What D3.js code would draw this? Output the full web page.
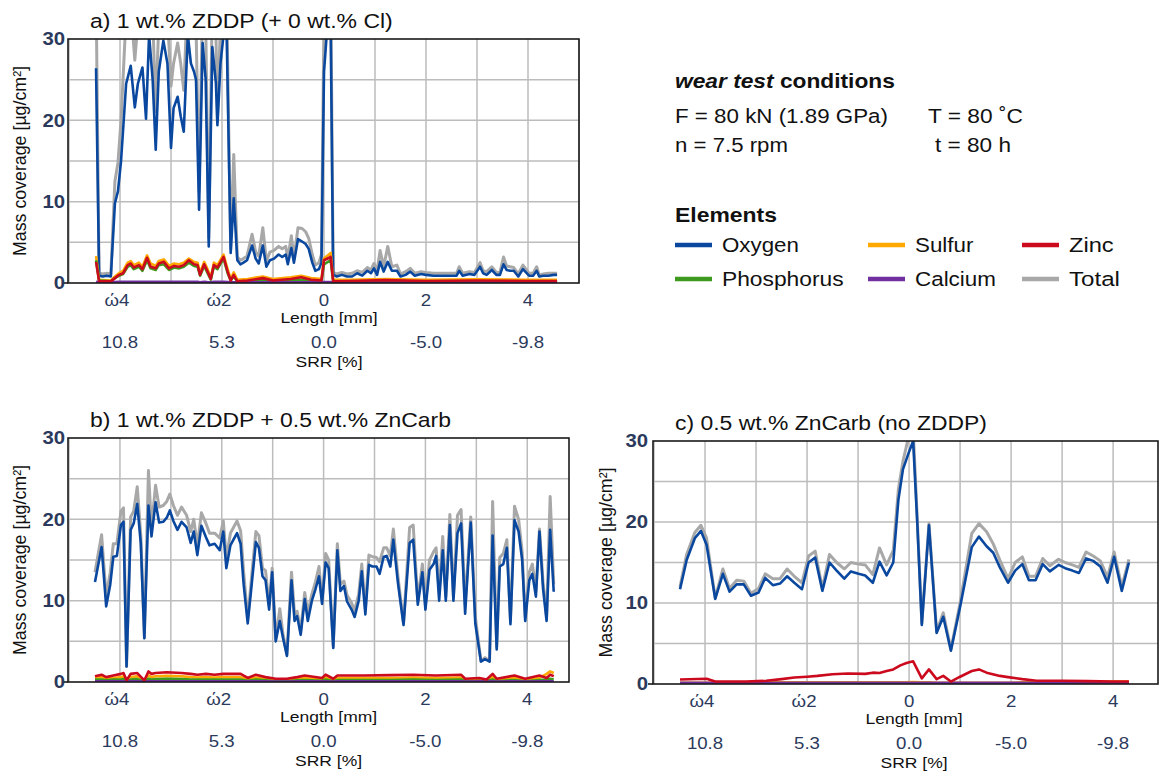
<!DOCTYPE html>
<html><head><meta charset="utf-8">
<script src="https://cdn.jsdelivr.net/npm/d3@7"></script>
<style>body{margin:0;background:#fff}svg{display:block;font-family:"Liberation Sans",Arial,sans-serif}</style>
</head><body><svg id="chart" width="1159" height="774"></svg>
<script>
// ---------- DATA ----------
const elementNames = ["Oxygen","Sulfur","Zinc","Phosphorus","Calcium","Total"];
const lengthTicks = [-4,-2,0,2,4];
const lengthTickLabels = ["ώ4","ώ2","0","2","4"];
const srrTickLabels = ["10.8","5.3","0.0","-5.0","-9.8"];
const yTicks = [0,10,20,30];
const titles = ["a) 1 wt.% ZDDP (+ 0 wt.% Cl)","b) 1 wt.% ZDDP + 0.5 wt.% ZnCarb","c) 0.5 wt.% ZnCarb (no ZDDP)"];

// Panel a : oxygen / total
const xA = [-4.47,-4.41,-4.34,-4.26,-4.18,-4.10,-4.04,-3.98,-3.88,-3.79,-3.71,-3.65,-3.56,-3.49,-3.43,-3.36,-3.30,-3.24,-3.15,-3.07,-3.00,-2.95,-2.87,-2.81,-2.75,-2.67,-2.61,-2.55,-2.51,-2.45,-2.38,-2.32,-2.26,-2.19,-2.12,-2.09,-2.03,-1.97,-1.91,-1.83,-1.77,-1.70,-1.64,-1.58,-1.51,-1.41,-1.34,-1.28,-1.20,-1.13,-1.06,-0.98,-0.89,-0.82,-0.75,-0.71,-0.64,-0.59,-0.51,-0.43,-0.36,-0.30,-0.23,-0.17,-0.10,-0.05,0.00,0.07,0.13,0.18,0.25,0.35,0.45,0.55,0.65,0.75,0.85,0.92,0.98,1.04,1.10,1.17,1.25,1.33,1.43,1.50,1.60,1.69,1.78,1.90,2.00,2.15,2.30,2.45,2.60,2.65,2.72,2.85,2.95,3.06,3.12,3.19,3.29,3.38,3.45,3.52,3.58,3.65,3.72,3.81,3.90,3.96,4.02,4.10,4.17,4.22,4.30,4.40,4.50,4.57];
const oxyA = [26.4,0.9,0.8,0.9,0.8,9.8,11.3,15,24.5,26.7,21.6,24.5,26.5,20.2,30.5,25,16.4,26,29.8,27,16.6,21.5,22.9,20.5,18.6,30.5,27,26,25,9.0,29.5,25,4.5,29,24.6,19.4,27,30.5,31,3.7,10.4,2.8,2.3,2.5,2.8,4.6,3.0,2.4,4.6,2.0,2.8,3.0,3.5,3.2,3.5,2.3,4.3,2.5,5.4,5.1,4.8,4.2,2.5,1.5,1.7,2.5,26,32,32,1.0,0.8,1.0,0.8,0.8,1.2,0.9,1.5,1.2,1.8,1.0,2.6,1.4,2.6,1.5,1.5,0.8,1.0,1.4,0.9,1.1,1.0,0.9,0.9,0.9,0.9,1.5,0.9,1.1,1.0,2.0,1.2,1.0,1.6,1.0,1.0,2.3,1.6,1.5,1.5,0.8,1.7,1.3,0.9,0.9,1.5,0.8,0.9,0.9,1.0,1.0];
const totA = [36,1.2,1.1,1.2,1.1,12.5,14.8,20,33,34,27.4,32,33,31,36,33,21.1,32,35,33,24.2,27,29.5,27,23.7,36,34,33,32,11.2,35,32,5.5,35,31,20,32,35,35,4.2,15.8,3.2,2.8,3.0,3.3,6.0,3.8,3.3,6.8,2.7,3.8,4.0,4.5,4.2,4.5,3.0,5.8,3.0,6.8,6.7,6.3,5.5,3.5,2.2,2.5,3.5,33,38,38,1.3,1.1,1.3,1.1,1.2,1.5,1.3,1.9,1.6,2.4,1.5,4.0,2.0,4.5,2.0,2.2,1.1,1.4,1.8,1.2,1.4,1.3,1.2,1.2,1.2,1.2,2.0,1.2,1.4,1.3,2.5,1.5,1.4,2.0,1.3,1.3,3.2,2.1,2.0,1.9,1.1,2.2,1.7,1.2,1.2,2.0,1.0,1.1,1.2,1.2,1.2];
// Panel a : minor elements
const xMinA = [-4.47,-4.41,-4.18,-4.10,-4.02,-3.94,-3.85,-3.79,-3.73,-3.63,-3.56,-3.47,-3.40,-3.30,-3.24,-3.14,-3.04,-2.94,-2.84,-2.75,-2.65,-2.55,-2.48,-2.43,-2.35,-2.29,-2.22,-2.16,-2.09,-1.97,-1.89,-1.83,-1.77,-1.70,-1.50,-1.20,-1.00,-0.65,-0.45,-0.25,-0.05,0.00,0.13,0.18,0.50,1.20,2.00,3.00,4.00,4.57];
const sulA = [3.3,0.4,0.3,0.8,1.2,1.5,2.5,2.7,2.2,2.5,2.0,3.4,2.4,2.1,2.7,2.9,2.1,2.4,2.3,2.5,3.0,2.6,2.5,1.3,2.6,1.8,0.7,2.5,2.2,3.5,1.7,0.5,1.3,0.4,0.5,0.8,0.5,0.7,0.9,0.6,0.5,3.0,3.7,0.4,0.4,0.5,0.4,0.45,0.4,0.4];
const phoA = [2.8,0.3,0.2,0.6,0.9,1.1,2.0,2.2,1.7,2.0,1.5,2.8,1.8,1.6,2.2,2.3,1.6,1.9,1.8,2.0,2.5,2.1,2.0,0.9,2.1,1.3,0.4,2.0,1.7,3.0,1.2,0.3,0.8,0.2,0.2,0.4,0.2,0.3,0.4,0.3,0.2,2.3,2.8,0.2,0.2,0.2,0.2,0.2,0.2,0.2];
const zinA = [2.6,0.2,0.2,0.6,1.0,1.2,2.2,2.4,1.9,2.2,1.7,3.1,2.0,1.8,2.4,2.6,1.8,2.1,2.0,2.2,2.8,2.3,2.2,1.0,2.3,1.5,0.5,2.2,1.9,3.2,1.4,0.3,1.0,0.2,0.3,0.6,0.3,0.5,0.7,0.4,0.3,2.8,3.2,0.2,0.25,0.35,0.25,0.3,0.25,0.25];
const calA = [0.15,0.1,0.1,0.12,0.15,0.15,0.15,0.15,0.15,0.15,0.15,0.15,0.15,0.15,0.15,0.15,0.15,0.15,0.15,0.15,0.15,0.15,0.15,0.1,0.15,0.12,0.1,0.15,0.15,0.15,0.12,0.08,0.1,0.08,0.08,0.1,0.08,0.08,0.1,0.08,0.08,0.12,0.12,0.06,0.06,0.06,0.06,0.06,0.06,0.06];

// Panel b : oxygen / total
const xB = [-4.49,-4.36,-4.27,-4.19,-4.13,-4.06,-3.98,-3.93,-3.87,-3.79,-3.73,-3.66,-3.59,-3.52,-3.44,-3.38,-3.30,-3.23,-3.15,-3.08,-3.02,-2.95,-2.87,-2.79,-2.69,-2.61,-2.55,-2.48,-2.40,-2.31,-2.24,-2.14,-2.04,-1.97,-1.91,-1.83,-1.77,-1.70,-1.63,-1.57,-1.49,-1.42,-1.33,-1.27,-1.20,-1.14,-1.07,-1.01,-0.94,-0.86,-0.80,-0.72,-0.63,-0.57,-0.52,-0.45,-0.37,-0.31,-0.23,-0.16,-0.09,-0.03,0.04,0.10,0.19,0.27,0.33,0.40,0.46,0.55,0.61,0.69,0.75,0.82,0.89,0.96,1.04,1.10,1.18,1.24,1.31,1.37,1.46,1.57,1.69,1.76,1.85,1.94,2.00,2.08,2.16,2.21,2.27,2.34,2.40,2.48,2.55,2.63,2.70,2.78,2.89,2.98,3.09,3.17,3.26,3.32,3.40,3.46,3.53,3.60,3.67,3.75,3.83,3.90,3.96,4.04,4.10,4.17,4.24,4.31,4.38,4.45,4.52];
const oxyB = [12.3,16.6,9.3,12,15.4,15.5,19.3,19.7,1.9,18.7,19.5,21.9,17,5.4,21.7,17.9,22.1,19.6,19.7,20.2,21.1,19.8,18.7,19.7,19,17.1,18.5,15.6,19.2,17.8,16.8,17,16.2,18.5,14,16.8,17.5,18.3,17,12,7.2,11.5,17.2,16.5,13,12.5,8.9,13.5,5.0,7.5,5.5,3.2,12.5,7.5,8.1,5.8,10.2,7.5,10,11.4,13,9.6,14.7,14,4.2,16.2,11.2,11.8,9.9,8.9,8.0,10,13.6,8.3,14.4,14.2,14.2,13.3,15.4,15.5,14.2,17.5,12.2,7.0,17.1,17.5,9.5,13.5,8.9,13.8,14.5,15.5,10,16.2,10,19.3,10,18.3,19.5,8.4,19.6,7.2,2.5,2.8,2.5,18,4.0,14.2,14.5,16.5,7.1,19.9,18.5,15,7.5,12.5,13.3,10.5,18.5,11.5,7.5,18.7,11.1];
const totB = [13.5,18.1,10.5,13.5,17,17,21,21.4,1.9,20.3,21,24,18,5.4,26,19,24.2,21.5,21.7,22.2,23.1,21.7,20.5,21.5,20.5,18.5,20,16.8,20.8,19.5,18.3,18.3,17.7,19.8,15.2,18.3,19,19.8,18.6,13.5,7.8,12.5,18.5,18,14,13.7,9.5,14,5.3,9,6,3.4,13.5,8.3,8.7,6.3,11,8.5,10.8,12.3,14.2,10,15.8,15,4.4,17,12,12.4,10.7,9.7,8.8,10.8,14.5,9,15.6,15.4,15.3,14.8,16.5,16.5,15.5,18.8,13,7.2,19,19.3,10,14.5,9.5,15,16,16.5,11,17.9,10.5,20.6,10.5,20.5,21.2,9.5,20.3,8,2.6,3.0,2.6,22.2,4.3,15.3,15.8,17.5,7.5,21.6,20,16,8,13.5,14.5,11.2,18.8,12.3,8,22.8,12];
// Panel b : minor elements
const xMinB = [-4.49,-4.36,-4.27,-4.13,-3.98,-3.93,-3.87,-3.79,-3.66,-3.52,-3.44,-3.38,-3.30,-3.08,-2.79,-2.61,-2.48,-2.31,-2.14,-1.97,-1.83,-1.63,-1.49,-1.33,-1.14,-0.94,-0.72,-0.52,-0.37,-0.03,0.04,0.19,0.27,0.80,1.30,1.76,2.20,2.70,2.78,3.06,3.20,3.32,3.40,3.75,3.96,4.24,4.38,4.45,4.52];
const sulB = [0.5,0.6,0.4,0.5,0.6,0.7,0.1,0.6,0.7,0.1,0.8,0.6,0.7,0.75,0.7,0.6,0.55,0.6,0.55,0.6,0.6,0.6,0.3,0.55,0.35,0.25,0.25,0.35,0.5,0.3,0.55,0.25,0.5,0.5,0.5,0.55,0.5,0.55,0.25,0.3,0.2,0.6,0.25,0.5,0.25,0.5,1.0,1.3,1.1];
const phoB = [0.3,0.3,0.2,0.3,0.3,0.35,0.05,0.3,0.35,0.05,0.4,0.3,0.35,0.4,0.35,0.3,0.3,0.3,0.3,0.3,0.3,0.3,0.15,0.3,0.2,0.1,0.1,0.2,0.25,0.15,0.3,0.1,0.25,0.25,0.25,0.3,0.25,0.3,0.1,0.15,0.1,0.3,0.1,0.25,0.1,0.25,0.3,0.4,0.3];
const zinB = [0.7,0.9,0.6,0.8,1.0,1.1,0.2,1.0,1.1,0.2,1.3,1.0,1.1,1.2,1.1,1.0,0.9,1.0,0.9,1.0,1.0,1.0,0.5,0.9,0.6,0.4,0.4,0.6,0.8,0.5,0.9,0.4,0.8,0.8,0.85,0.9,0.8,0.9,0.4,0.5,0.3,1.0,0.4,0.8,0.4,0.8,0.5,0.9,0.7];
const calB = [0.1,0.1,0.1,0.1,0.1,0.1,0.05,0.1,0.1,0.05,0.1,0.1,0.1,0.1,0.1,0.1,0.1,0.1,0.1,0.1,0.1,0.1,0.08,0.1,0.08,0.06,0.06,0.08,0.1,0.08,0.1,0.06,0.1,0.1,0.1,0.1,0.1,0.1,0.06,0.08,0.06,0.1,0.06,0.1,0.06,0.1,0.1,0.1,0.1];

// Panel c : oxygen / total
const xC = [-4.49,-4.36,-4.20,-4.08,-3.97,-3.80,-3.65,-3.52,-3.38,-3.24,-3.10,-2.95,-2.82,-2.67,-2.53,-2.39,-2.25,-2.10,-1.97,-1.84,-1.70,-1.56,-1.42,-1.27,-1.14,-0.99,-0.86,-0.71,-0.58,-0.44,-0.31,-0.21,-0.12,-0.01,0.08,0.16,0.25,0.39,0.54,0.67,0.82,1.00,1.23,1.37,1.52,1.65,1.78,1.94,2.08,2.22,2.35,2.48,2.62,2.76,2.93,3.06,3.20,3.33,3.47,3.61,3.75,3.89,4.02,4.17,4.31];
const oxyC = [11.7,15.3,18,18.9,17.2,10.5,13.6,11.4,12.3,12.3,10.9,11.3,13.1,12.2,12.4,13.3,12.5,11.7,15.0,15.6,11.5,15,14,13,13.9,13.6,13.4,12.5,15.1,13.4,15,22.7,26.5,28.5,30,20,7.3,19.6,6.3,8.3,4.1,9.5,16.9,18.2,17,16.2,14.4,12.5,14,14.8,12.8,12.8,14.8,13.9,14.7,14.3,14,13.7,15.5,15.2,14.5,12.5,15.7,11.5,15];
const totC = [12,16,18.7,19.6,18,10.6,14.2,11.8,12.8,12.7,11.2,11.8,13.6,13,13,14.2,13.3,12.5,15.8,16.4,11.8,16,15,14.2,15,14.8,14.7,13.5,16.8,14.7,16.5,24,27.5,30.5,31.5,20.5,7.5,19.8,6.5,8.8,4.3,10,18.6,19.8,18.8,17.3,15.3,13,15,15.7,13.3,13.3,15.5,14.6,15.4,15,14.7,14.4,16.3,15.8,15.2,13.2,16.3,12,15.4];
// Panel c : minor elements
const xMinC = [-4.49,-3.97,-3.80,-3.20,-2.80,-2.50,-2.25,-2.00,-1.80,-1.50,-1.20,-0.86,-0.71,-0.58,-0.44,-0.31,-0.17,-0.05,0.08,0.25,0.39,0.54,0.67,0.82,1.00,1.23,1.37,1.52,1.78,1.94,2.22,2.50,3.00,3.50,4.00,4.31];
const sulC = [0.15,0.15,0.15,0.15,0.2,0.2,0.2,0.2,0.2,0.2,0.2,0.2,0.2,0.2,0.2,0.2,0.2,0.2,0.25,0.2,0.2,0.15,0.15,0.15,0.15,0.15,0.15,0.15,0.15,0.15,0.2,0.2,0.25,0.25,0.3,0.3];
const phoC = [0.1,0.1,0.1,0.1,0.1,0.1,0.1,0.1,0.1,0.1,0.1,0.1,0.1,0.1,0.1,0.1,0.1,0.1,0.1,0.1,0.1,0.1,0.1,0.1,0.1,0.1,0.1,0.1,0.1,0.1,0.1,0.1,0.1,0.1,0.1,0.1];
const zinC = [0.55,0.65,0.3,0.3,0.4,0.6,0.8,0.9,1.0,1.2,1.3,1.25,1.4,1.35,1.6,1.8,2.3,2.6,2.8,0.7,1.8,0.6,1.0,0.3,0.9,1.6,1.8,1.4,1.0,0.85,0.6,0.4,0.4,0.35,0.3,0.3];
const calC = [0.15,0.15,0.15,0.15,0.15,0.15,0.15,0.15,0.15,0.15,0.15,0.15,0.15,0.15,0.15,0.15,0.15,0.15,0.15,0.15,0.15,0.15,0.15,0.15,0.15,0.15,0.15,0.15,0.15,0.15,0.15,0.15,0.15,0.15,0.15,0.15];

// ---------- STYLE ----------
const colors = {Oxygen:"#0a48a0",Sulfur:"#ffa800",Zinc:"#cc0a1e",Phosphorus:"#3e9a1e",Calcium:"#7030a0",Total:"#a8a8a8"};
const navy = "#2b3a5c";
const STRETCH = 1.13;

const svg = d3.select("#chart");
svg.append("rect").attr("width",1159).attr("height",774).attr("fill","#fff");

// horizontally stretch a text around its anchor x, either by factor or to a target width
function stretch(sel, factor, target) {
  sel.each(function() {
    const x = +this.getAttribute("x") || 0;
    const w = this.getBBox().width;
    const s = target ? target / w : factor;
    this.setAttribute("transform", `translate(${x},0) scale(${s},1) translate(${-x},0)`);
  });
  return sel;
}

const panels = [
  {id:"a", title:titles[0], titleW:303, left:68, right:579, top:39, bottom:283, xdom:[-5.02,5.0],
   x:xA, oxy:oxyA, tot:totA, xm:xMinA, sul:sulA, pho:phoA, zin:zinA, cal:calA, ylabX:20, yTickX:65},
  {id:"b", title:titles[1], titleW:361, left:68, right:569, top:438, bottom:682, xdom:[-5.02,4.82],
   x:xB, oxy:oxyB, tot:totB, xm:xMinB, sul:sulB, pho:phoB, zin:zinB, cal:calB, ylabX:20, yTickX:65},
  {id:"c", title:titles[2], titleW:312, left:653, right:1158, top:441, bottom:684, xdom:[-5.02,4.88],
   x:xC, oxy:oxyC, tot:totC, xm:xMinC, sul:sulC, pho:phoC, zin:zinC, cal:calC, ylabX:606, yTickX:648}
];

panels.forEach(p => {
  const xs = d3.scaleLinear().domain(p.xdom).range([p.left,p.right]);
  const ys = d3.scaleLinear().domain([0,30]).range([p.bottom,p.top]);
  const g = svg.append("g");
  const clipId = "clip-"+p.id;
  svg.append("clipPath").attr("id",clipId).append("rect")
    .attr("x",p.left).attr("y",p.top).attr("width",p.right-p.left).attr("height",p.bottom-p.top);

  // grid
  const gx = d3.range(Math.ceil(p.xdom[0]), Math.floor(p.xdom[1])+1);
  g.selectAll(".vg").data(gx).join("line")
    .attr("x1",d=>xs(d)).attr("x2",d=>xs(d)).attr("y1",p.top).attr("y2",p.bottom)
    .attr("stroke","#bcbcbc").attr("stroke-width",1.5);
  g.selectAll(".hg").data([5,10,15,20,25]).join("line")
    .attr("x1",p.left).attr("x2",p.right).attr("y1",d=>ys(d)).attr("y2",d=>ys(d))
    .attr("stroke","#bcbcbc").attr("stroke-width",1.5);

  // lines
  const lg = g.append("g").attr("clip-path","url(#"+clipId+")");
  const line = (xv, yv) => d3.line().x((d,i)=>xs(xv[i])).y(d=>ys(d))(yv);
  const draw = (xv, yv, c, w) => lg.append("path").attr("d",line(xv,yv)).attr("fill","none")
    .attr("stroke",c).attr("stroke-width",w).attr("stroke-linejoin","round");
  draw(p.x,p.tot,colors.Total,3);
  draw(p.x,p.oxy,colors.Oxygen,2.6);
  draw(p.xm,p.sul,colors.Sulfur,2.6);
  draw(p.xm,p.pho,colors.Phosphorus,2.6);
  draw(p.xm,p.cal,colors.Calcium,2.6);
  draw(p.xm,p.zin,colors.Zinc,2.6);

  // frame
  g.append("rect").attr("x",p.left).attr("y",p.top).attr("width",p.right-p.left).attr("height",p.bottom-p.top)
    .attr("fill","none").attr("stroke","#1a1a1a").attr("stroke-width",1.6);
  g.append("line").attr("x1",p.left-5).attr("x2",p.left).attr("y1",p.bottom).attr("y2",p.bottom)
    .attr("stroke","#1a1a1a").attr("stroke-width",1.6);

  // y ticks
  stretch(g.selectAll(".yt").data(yTicks).join("text")
    .attr("x",p.yTickX).attr("y",d=>ys(d)).attr("dy","0.36em").attr("text-anchor","end")
    .attr("font-size",18).attr("fill",navy).attr("font-weight","bold").text(d=>d), STRETCH);
  g.append("text").attr("transform",`translate(${p.ylabX},${(p.top+p.bottom)/2}) rotate(-90)`)
    .attr("dy","0.36em").attr("text-anchor","middle").attr("font-size",17.5).attr("fill","#111")
    .attr("textLength",190).attr("lengthAdjust","spacingAndGlyphs")
    .text("Mass coverage [µg/cm²]");

  // x ticks (Length)
  stretch(g.selectAll(".xt").data(lengthTicks).join("text")
    .attr("x",(d,i)=>xs(d)-(i<2?3:0)).attr("y",p.bottom+23).attr("text-anchor","middle")
    .attr("font-size",16.5).attr("fill",navy).text((d,i)=>lengthTickLabels[i]), STRETCH);
  stretch(g.append("text").attr("x",xs(0)+5).attr("y",p.bottom+40).attr("text-anchor","middle")
    .attr("font-size",15.5).attr("fill","#111").text("Length [mm]"), STRETCH);
  stretch(g.selectAll(".st").data(lengthTicks).join("text")
    .attr("x",d=>xs(d)).attr("y",p.bottom+65).attr("text-anchor","middle")
    .attr("font-size",16.5).attr("fill",navy).text((d,i)=>srrTickLabels[i]), STRETCH);
  stretch(g.append("text").attr("x",xs(0)+5).attr("y",p.bottom+84).attr("text-anchor","middle")
    .attr("font-size",15.5).attr("fill","#111").text("SRR [%]"), STRETCH);

  // title
  stretch(g.append("text").attr("x",p.left+22).attr("y",p.top-11).attr("font-size",20.5).attr("fill","#111").text(p.title), null, p.titleW);
});

// ---------- legend / conditions ----------
const lgd = svg.append("g").attr("fill","#111");
const t1 = lgd.append("text").attr("x",675).attr("y",88).attr("font-size",20).attr("font-weight","bold");
t1.append("tspan").attr("font-style","italic").text("wear test");
t1.append("tspan").text(" conditions");
stretch(t1, null, 220);
stretch(lgd.append("text").attr("x",675).attr("y",123).attr("font-size",19.5).text("F = 80 kN (1.89 GPa)"), null, 213);
stretch(lgd.append("text").attr("x",928).attr("y",123).attr("font-size",19.5).text("T = 80 ˚C"), null, 95);
stretch(lgd.append("text").attr("x",675).attr("y",152).attr("font-size",19.5).text("n = 7.5 rpm"), null, 113);
stretch(lgd.append("text").attr("x",935).attr("y",152).attr("font-size",19.5).text("t = 80 h"), null, 76);
stretch(lgd.append("text").attr("x",675).attr("y",222).attr("font-size",20).attr("font-weight","bold").text("Elements"), null, 102);

const legendItems = [
  {name:"Oxygen", col:0,row:0,w:77},{name:"Sulfur",col:1,row:0,w:59},{name:"Zinc",col:2,row:0,w:45},
  {name:"Phosphorus",col:0,row:1,w:122},{name:"Calcium",col:1,row:1,w:81},{name:"Total",col:2,row:1,w:51}];
const colX = [675,868,1022], rowY=[245,279];
legendItems.forEach(it=>{
  lgd.append("line").attr("x1",colX[it.col]).attr("x2",colX[it.col]+37).attr("y1",rowY[it.row]).attr("y2",rowY[it.row])
    .attr("stroke",colors[it.name]).attr("stroke-width",4.5);
  stretch(lgd.append("text").attr("x",colX[it.col]+47).attr("y",rowY[it.row]).attr("dy","0.36em")
    .attr("font-size",19.5).text(it.name), null, it.w);
});
</script></body></html>
